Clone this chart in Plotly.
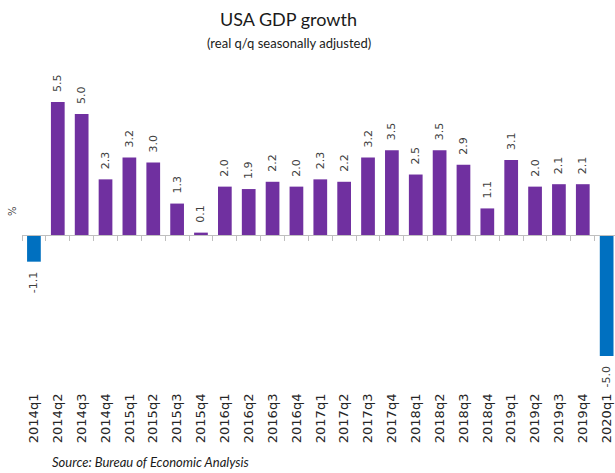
import plotly.graph_objects as go

quarters = ['2014q1', '2014q2', '2014q3', '2014q4',
            '2015q1', '2015q2', '2015q3', '2015q4',
            '2016q1', '2016q2', '2016q3', '2016q4',
            '2017q1', '2017q2', '2017q3', '2017q4',
            '2018q1', '2018q2', '2018q3', '2018q4',
            '2019q1', '2019q2', '2019q3', '2019q4',
            '2020q1']
growth = [-1.1, 5.5, 5.0, 2.3,
          3.2, 3.0, 1.3, 0.1,
          2.0, 1.9, 2.2, 2.0,
          2.3, 2.2, 3.2, 3.5,
          2.5, 3.5, 2.9, 1.1,
          3.1, 2.0, 2.1, 2.1,
          -5.0]

PURPLE = '#7030A0'
BLUE = '#0070C0'
GREY = '#bfbfbf'
TITLE_FONT = 'Lato, Open Sans, sans-serif'

colors = [BLUE if v < 0 else PURPLE for v in growth]
# pad the labels on the side facing the bar (rotated text reads bottom-up)
NBSP = '\u00a0'
labels = [(f'{v:.1f}' + NBSP * 2) if v < 0 else (NBSP * 2 + f'{v:.1f}') for v in growth]

y_range = [-6.40, 7.23]
x_range = [-0.5, 24.35]
zero_pos = (0 - y_range[0]) / (y_range[1] - y_range[0])

fig = go.Figure()
fig.add_bar(x=quarters, y=growth, marker=dict(color=colors, line=dict(width=0)),
            text=labels, textposition='outside', textangle=-90,
            constraintext='none', cliponaxis=False,
            textfont=dict(family='DejaVu Sans', size=11, color='#404040'),
            showlegend=False)
# invisible trace so the zero axis (ticks between categories) gets its categories
fig.add_scatter(x=quarters, y=[0] * len(quarters), xaxis='x2', mode='markers',
                marker=dict(opacity=0), hoverinfo='skip', showlegend=False)

fig.update_layout(
    width=615, height=473,
    margin=dict(l=22, r=0, t=60, b=83, autoexpand=False),
    plot_bgcolor='white', paper_bgcolor='white',
    bargap=0.425,
    xaxis=dict(type='category', range=x_range, showline=False, ticks='',
               tickangle=-90, showgrid=False, automargin=False,
               tickfont=dict(family='DejaVu Sans', size=13, color='#262626')),
    xaxis2=dict(type='category', range=x_range, overlaying='x', anchor='free',
                position=zero_pos, side='bottom', showline=True, linecolor=GREY,
                linewidth=1, ticks='outside', tickson='boundaries', ticklen=5,
                tickcolor=GREY, showticklabels=False, showgrid=False, automargin=False),
    yaxis=dict(range=y_range, showgrid=False, zeroline=False, showticklabels=False,
               ticks='', automargin=False),
)

fig.add_annotation(text='USA GDP growth', xref='paper', yref='paper',
                   x=0.45, y=1.124, showarrow=False, xanchor='center', yanchor='middle',
                   font=dict(family=TITLE_FONT, size=18, color='#1a1a1a'))
fig.add_annotation(text='(real q/q seasonally adjusted)', xref='paper', yref='paper',
                   x=0.45, y=1.052, showarrow=False, xanchor='center', yanchor='middle',
                   font=dict(family=TITLE_FONT, size=13, color='#1a1a1a'))
fig.add_annotation(text='<i>Source: Bureau of Economic Analysis</i>', xref='paper', yref='paper',
                   x=0.047, y=-0.218, showarrow=False, xanchor='left', yanchor='middle',
                   font=dict(family=TITLE_FONT, size=13, color='#1a1a1a'))
fig.add_annotation(text='%', xref='paper', yref='paper', x=-0.017, y=0.542,
                   showarrow=False, textangle=-90, xanchor='center', yanchor='middle',
                   font=dict(family='DejaVu Sans', size=10, color='#404040'))

# the page's default body margin would shift the fixed-size figure off the window
fig.write_html('out.html', config={'displayModeBar': False},
               post_script="document.body.style.margin='0';")
